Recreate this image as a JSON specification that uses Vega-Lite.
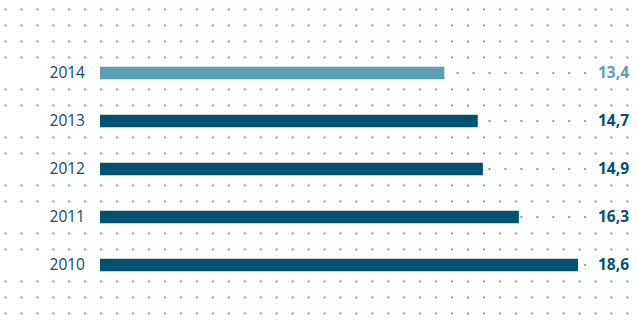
{
  "$schema": "https://vega.github.io/schema/vega-lite/v6.json",
  "width": 638,
  "height": 326,
  "autosize": {"type": "none"},
  "padding": 0,
  "background": "white",
  "config": {
    "view": {"stroke": null},
    "locale": {"number": {"decimal": ",", "thousands": ".", "grouping": [3], "currency": ["", " €"]}},
    "text": {"font": "Open Sans"}
  },
  "data": {
    "values": [
      {"year": "2014", "value": 13.4, "kind": "current"},
      {"year": "2013", "value": 14.7, "kind": "past"},
      {"year": "2012", "value": 14.9, "kind": "past"},
      {"year": "2011", "value": 16.3, "kind": "past"},
      {"year": "2010", "value": 18.6, "kind": "past"}
    ]
  },
  "layer": [
    {
      "mark": {"type": "rule", "opacity": 0},
      "encoding": {
        "y": {
          "datum": 0,
          "type": "quantitative",
          "scale": {"domain": [0, 326], "range": [0, 326], "nice": false, "zero": false},
          "axis": {
            "orient": "right",
            "values": [9, 25, 41, 57, 89, 105, 137, 153, 185, 201, 233, 249, 281, 297, 313],
            "grid": true,
            "gridDash": [2, 13.95],
            "gridDashOffset": 5.95,
            "gridWidth": 2,
            "gridColor": "#6aaabb",
            "gridOpacity": 1,
            "labels": false,
            "ticks": false,
            "domain": false,
            "title": null
          }
        }
      }
    },
    {
      "encoding": {
        "y": {
          "field": "year",
          "type": "ordinal",
          "sort": "descending",
          "scale": {"type": "point", "range": [73, 265], "padding": 0},
          "axis": null
        }
      },
      "layer": [
        {
          "mark": {"type": "rule", "strokeDash": [2, 13.95], "strokeDashOffset": 10.25, "strokeWidth": 2, "color": "#6aaabb"},
          "encoding": {
            "x": {"datum": 0, "type": "quantitative", "scale": {"domain": [-3.891, 20.935], "nice": false, "zero": false}, "axis": null},
            "x2": {"datum": 19.07}
          }
        },
        {
          "mark": {"type": "bar", "size": 12.5},
          "encoding": {
            "x": {"field": "value", "type": "quantitative", "scale": {"domain": [-3.891, 20.935], "nice": false, "zero": false}, "axis": null},
            "x2": {"datum": 0},
            "color": {"field": "kind", "type": "nominal", "scale": {"domain": ["current", "past"], "range": ["#5a9fb2", "#00526f"]}, "legend": null}
          }
        },
        {
          "mark": {"type": "text", "align": "right", "baseline": "middle", "fontSize": 15.5, "color": "#0f4a63", "dy": 0},
          "encoding": {
            "x": {"datum": -0.584, "type": "quantitative"},
            "text": {"field": "year", "type": "nominal"}
          }
        },
        {
          "mark": {"type": "text", "align": "right", "baseline": "middle", "fontSize": 15.5, "fontWeight": "bold"},
          "encoding": {
            "x": {"datum": 20.585, "type": "quantitative"},
            "text": {"field": "value", "type": "quantitative", "format": ".1f"},
            "color": {"field": "kind", "type": "nominal", "scale": {"domain": ["current", "past"], "range": ["#5a9fb2", "#00526f"]}, "legend": null}
          }
        }
      ]
    }
  ],
  "resolve": {"scale": {"y": "independent"}, "axis": {"y": "independent"}}
}
